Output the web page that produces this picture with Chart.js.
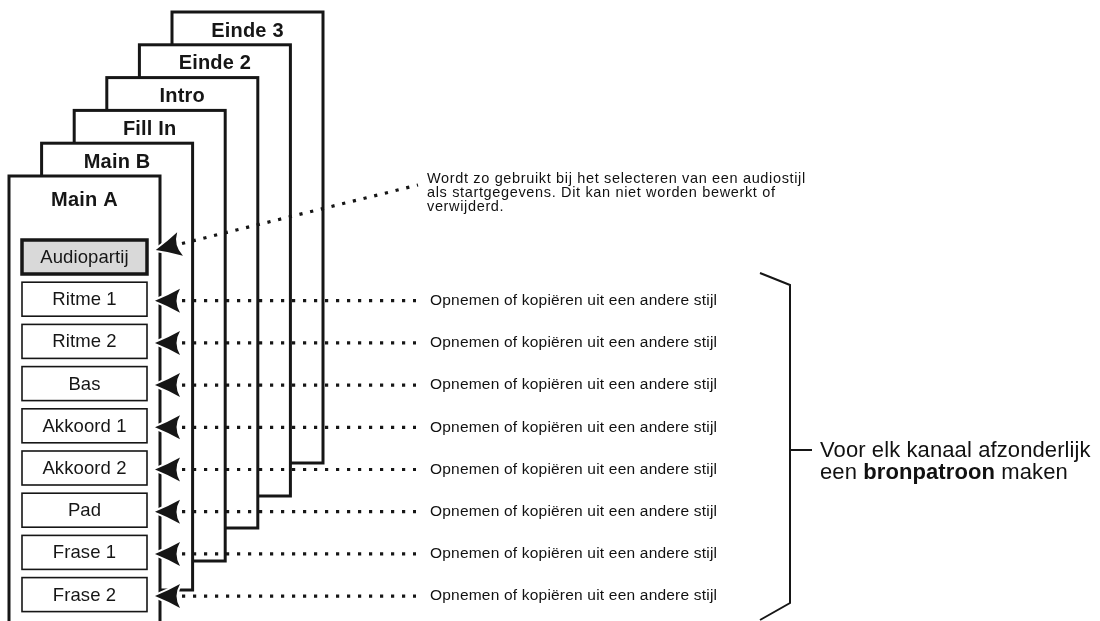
<!DOCTYPE html>
<html>
<head>
<meta charset="utf-8">
<script src="https://cdn.jsdelivr.net/npm/chart.js@4.4.1/dist/chart.umd.min.js"></script>
<style>
  html, body { margin: 0; padding: 0; background: #fff; }
  #wrap { width: 1100px; height: 621px; position: relative; }
</style>
</head>
<body>
<div id="wrap"><canvas id="diagram"></canvas></div>
<script>
// pages of the style, front to back
const pages = ['Main A', 'Main B', 'Fill In', 'Intro', 'Einde 2', 'Einde 3'];
// channels inside one page, top to bottom
const parts = ['Audiopartij', 'Ritme 1', 'Ritme 2', 'Bas', 'Akkoord 1', 'Akkoord 2', 'Pad', 'Frase 1', 'Frase 2'];
const partNote = 'Opnemen of kopiëren uit een andere stijl';
const audioNote = [
    'Wordt zo gebruikt bij het selecteren van een audiostijl',
    'als startgegevens. Dit kan niet worden bewerkt of',
    'verwijderd.'
];
const bracketLine1 = 'Voor elk kanaal afzonderlijk';
const bracketLine2 = ['een ', 'bronpatroon', ' maken']; // middle word bold

// layout (pixel units of the 1100 x 621 picture)
const L = {
    cardX0: 9, cardDX: 32.6, cardY0: 176, cardDY: 32.8, cardW: 151,
    cardBottom: [660, 590, 561, 528, 496, 463],
    rowY0: 257, rowDY: 42.2, boxX0: 22, boxX1: 147, boxH: 34,
    arrowTip: 155, dotX0: 182, dotX1: 416, noteX: 430,
    audioEnd: { x: 418, y: 185 }, audioStart: { x: 182, y: 243.5 },
    audioNoteX: 427, audioNoteY: 183, audioNoteDY: 13.8,
    bracket: [{ x: 760, y: 273 }, { x: 790, y: 285 }, { x: 790, y: 603 }, { x: 760, y: 620 }],
    tick: [{ x: 790, y: 450 }, { x: 812, y: 450 }],
    rightX: 820, rightY: 457, rightDY: 22
};
const ink = '#161616';
const font = '"Liberation Sans", Arial, Helvetica, sans-serif';

function rowY(i) { return L.rowY0 + L.rowDY * i; }

const datasets = [];
parts.forEach(function (p, i) {
    let pts;
    if (i === 0) {
        pts = [L.audioStart, L.audioEnd];
    } else {
        pts = [{ x: L.dotX0, y: rowY(i) + 1.5 }, { x: L.dotX1, y: rowY(i) + 1.5 }];
    }
    datasets.push({
        label: p,
        data: pts,
        showLine: true,
        borderColor: ink,
        borderWidth: 3.2,
        borderDash: [3.2, 7.8],
        pointRadius: 0
    });
});
datasets.push({ label: 'bracket', data: L.bracket, showLine: true, borderColor: ink, borderWidth: 2, pointRadius: 0 });
datasets.push({ label: 'tick', data: L.tick, showLine: true, borderColor: ink, borderWidth: 2, pointRadius: 0 });

function drawArrow(ctx, x, y, angle) {
    ctx.save();
    ctx.translate(x, y);
    ctx.rotate(angle);
    ctx.beginPath();
    ctx.moveTo(0, 0);
    ctx.quadraticCurveTo(-13, -5.2, -25, -12);
    ctx.quadraticCurveTo(-18, 0, -25, 12);
    ctx.quadraticCurveTo(-13, 5.2, 0, 0);
    ctx.closePath();
    ctx.strokeStyle = '#fff';
    ctx.lineWidth = 4;
    ctx.stroke();
    ctx.fillStyle = ink;
    ctx.fill();
    ctx.restore();
}

const pagePlugin = {
    id: 'pages',
    beforeDatasetsDraw(chart) {
        const ctx = chart.ctx;
        const xs = chart.scales.x, ys = chart.scales.y;
        const px = v => xs.getPixelForValue(v), py = v => ys.getPixelForValue(v);
        ctx.save();
        // cards, back to front
        for (let i = pages.length - 1; i >= 0; i--) {
            const left = px(L.cardX0 + L.cardDX * i);
            const right = px(L.cardX0 + L.cardDX * i + L.cardW);
            const top = py(L.cardY0 - L.cardDY * i);
            const bottom = py(L.cardBottom[i]);
            ctx.fillStyle = '#fff';
            ctx.fillRect(left, top, right - left, bottom - top);
            ctx.strokeStyle = ink;
            ctx.lineWidth = 3;
            ctx.strokeRect(left, top, right - left, bottom - top);
            ctx.fillStyle = ink;
            ctx.font = 'bold 20px ' + font;
            ctx.letterSpacing = '0.2px';
            ctx.textAlign = 'center';
            ctx.textBaseline = 'middle';
            ctx.fillText(pages[i], (left + right) / 2, top + (i === 0 ? 24.5 : 19));
        }
        // channel boxes
        parts.forEach(function (p, i) {
            const x0 = px(L.boxX0), x1 = px(L.boxX1);
            const y0 = py(rowY(i) - L.boxH / 2), y1 = py(rowY(i) + L.boxH / 2);
            ctx.fillStyle = i === 0 ? '#d9d9d9' : '#fff';
            ctx.fillRect(x0, y0, x1 - x0, y1 - y0);
            ctx.strokeStyle = ink;
            ctx.lineWidth = i === 0 ? 3.5 : 1.6;
            ctx.strokeRect(x0, y0, x1 - x0, y1 - y0);
            ctx.fillStyle = ink;
            ctx.font = '18.5px ' + font;
            ctx.letterSpacing = '0.1px';
            ctx.textAlign = 'center';
            ctx.textBaseline = 'middle';
            ctx.fillText(p, (x0 + x1) / 2, (y0 + y1) / 2 + 1);
        });
        ctx.restore();
    },
    afterDatasetsDraw(chart) {
        const ctx = chart.ctx;
        const xs = chart.scales.x, ys = chart.scales.y;
        const px = v => xs.getPixelForValue(v), py = v => ys.getPixelForValue(v);
        ctx.save();
        // arrowheads
        parts.forEach(function (p, i) {
            if (i === 0) {
                const dx = L.audioStart.x - L.audioEnd.x, dy = L.audioStart.y - L.audioEnd.y;
                const len = Math.sqrt(dx * dx + dy * dy);
                const tx = L.audioStart.x + dx / len * 27, ty = L.audioStart.y + dy / len * 27;
                drawArrow(ctx, px(tx), py(ty), Math.atan2(py(ty) - py(L.audioStart.y), px(tx) - px(L.audioStart.x)));
            } else {
                drawArrow(ctx, px(L.arrowTip), py(rowY(i) + 1.5), Math.PI);
            }
        });
        // notes
        ctx.fillStyle = '#111';
        ctx.textAlign = 'left';
        ctx.font = '15.5px ' + font;
        ctx.letterSpacing = '0.2px';
        ctx.textBaseline = 'middle';
        for (let i = 1; i < parts.length; i++) {
            ctx.fillText(partNote, px(L.noteX), py(rowY(i) + 1.5));
        }
        ctx.textBaseline = 'alphabetic';
        ctx.font = '14.5px ' + font;
        ctx.letterSpacing = '0.65px';
        audioNote.forEach(function (t, k) {
            ctx.fillText(t, px(L.audioNoteX), py(L.audioNoteY + L.audioNoteDY * k));
        });
        // bracket text
        ctx.font = '22px ' + font;
        ctx.letterSpacing = '0.1px';
        ctx.fillText(bracketLine1, px(L.rightX), py(L.rightY));
        let x = px(L.rightX);
        bracketLine2.forEach(function (t, k) {
            ctx.font = (k === 1 ? 'bold ' : '') + '22px ' + font;
            ctx.fillText(t, x, py(L.rightY + L.rightDY));
            x += ctx.measureText(t).width;
        });
        ctx.restore();
    }
};

new Chart(document.getElementById('diagram').getContext('2d'), {
    type: 'scatter',
    data: { datasets: datasets },
    options: {
        responsive: true,
        maintainAspectRatio: false,
        animation: false,
        events: [],
        layout: { padding: 0 },
        plugins: { legend: { display: false }, tooltip: { enabled: false } },
        scales: {
            x: { type: 'linear', min: 0, max: 1100, display: false },
            y: { type: 'linear', min: 0, max: 621, reverse: true, display: false }
        }
    },
    plugins: [pagePlugin]
});
</script>
</body>
</html>
